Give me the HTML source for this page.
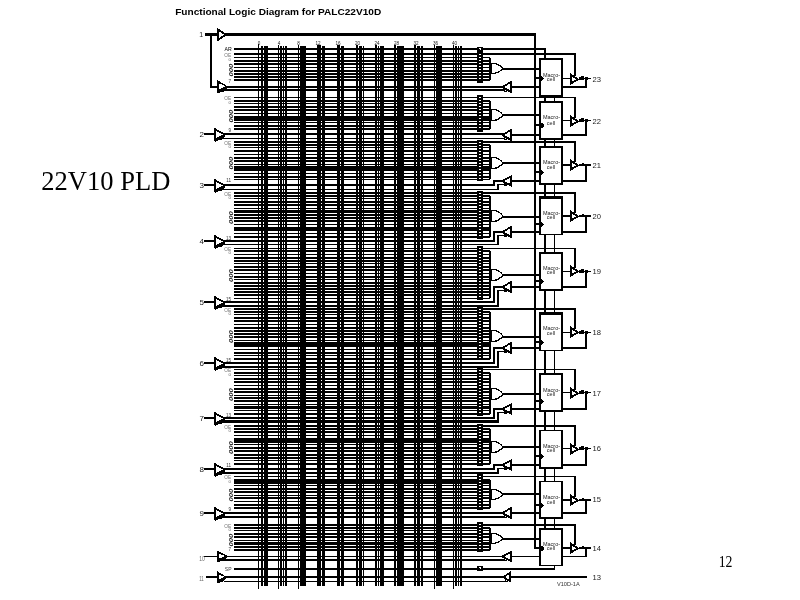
<!DOCTYPE html>
<html lang="en">
<head>
<meta charset="utf-8">
<title>22V10 PLD</title>
<style>
html,body{margin:0;padding:0;background:#fff;}
body{width:800px;height:600px;overflow:hidden;position:relative;}
svg{position:absolute;left:0;top:0;display:block;will-change:transform;}
text.s{font-family:"Liberation Sans",Arial,Helvetica,sans-serif;}
text.f{font-family:"Liberation Serif","Times New Roman",Times,serif;}
</style>
</head>
<body>
<svg width="800" height="600" viewBox="0 0 800 600">
<rect x="0" y="0" width="800" height="600" fill="#fff"/>
<g shape-rendering="crispEdges" fill="#000">
<rect x="205" y="33" width="13" height="3"/>
<rect x="225" y="33" width="311" height="3"/>
<rect x="534" y="33" width="2" height="516"/>
<rect x="210" y="35" width="2" height="53"/>
<rect x="210" y="86" width="8" height="2"/>
<rect x="258" y="44" width="1" height="545"/>
<rect x="261" y="46" width="2" height="540"/>
<rect x="264" y="46" width="4" height="540"/>
<rect x="278" y="45" width="1" height="544"/>
<rect x="280" y="46" width="2" height="540"/>
<rect x="283" y="46" width="1" height="540"/>
<rect x="285" y="46" width="2" height="540"/>
<rect x="298" y="45" width="1" height="544"/>
<rect x="300" y="46" width="6" height="540"/>
<rect x="317" y="45" width="4" height="541"/>
<rect x="322" y="46" width="3" height="540"/>
<rect x="337" y="45" width="3" height="541"/>
<rect x="341" y="46" width="3" height="540"/>
<rect x="356" y="45" width="2" height="541"/>
<rect x="359" y="46" width="3" height="540"/>
<rect x="363" y="46" width="1" height="540"/>
<rect x="375" y="45" width="2" height="541"/>
<rect x="378" y="46" width="1" height="540"/>
<rect x="380" y="46" width="4" height="540"/>
<rect x="394" y="45" width="2" height="541"/>
<rect x="397" y="46" width="7" height="540"/>
<rect x="414" y="45" width="2" height="541"/>
<rect x="417" y="46" width="3" height="540"/>
<rect x="421" y="46" width="2" height="540"/>
<rect x="434" y="45" width="1" height="544"/>
<rect x="436" y="46" width="6" height="540"/>
<rect x="453" y="45" width="1" height="544"/>
<rect x="455" y="46" width="2" height="540"/>
<rect x="458" y="46" width="1" height="540"/>
<rect x="460" y="46" width="2" height="540"/>
<rect x="234" y="48" width="312" height="2"/>
<rect x="544" y="48" width="2" height="11"/>
<rect x="234" y="568" width="321" height="2"/>
<rect x="554" y="565" width="1" height="5"/>
<rect x="234" y="53" width="342" height="2"/>
<rect x="574" y="53" width="2" height="23"/>
<rect x="234" y="57" width="256" height="1"/>
<rect x="234" y="60" width="256" height="2"/>
<rect x="234" y="63" width="256" height="2"/>
<rect x="234" y="67" width="256" height="1"/>
<rect x="234" y="70" width="256" height="2"/>
<rect x="234" y="73" width="256" height="2"/>
<rect x="234" y="76" width="256" height="2"/>
<rect x="234" y="79" width="256" height="2"/>
<rect x="489" y="58" width="2" height="22"/>
<rect x="477" y="52" width="6" height="31"/>
<rect x="479" y="54" width="2" height="1" fill="#fff"/>
<rect x="479" y="57" width="2" height="1" fill="#fff"/>
<rect x="479" y="60" width="2" height="1" fill="#fff"/>
<rect x="479" y="63" width="2" height="1" fill="#fff"/>
<rect x="479" y="66" width="2" height="1" fill="#fff"/>
<rect x="479" y="69" width="2" height="1" fill="#fff"/>
<rect x="479" y="72" width="2" height="1" fill="#fff"/>
<rect x="479" y="75" width="2" height="1" fill="#fff"/>
<rect x="479" y="78" width="2" height="1" fill="#fff"/>
<path d="M491,63.5 L494.6,63.5 Q499.6,64.2 502.9,68.7 Q499.6,72.4 494.6,73.5 L491,73.5 Z" fill="#fff" stroke="#000" stroke-width="1.3"/>
<rect x="503" y="68" width="36" height="2"/>
<rect x="539" y="58" width="24" height="39"/>
<rect x="541" y="60" width="20" height="35" fill="#fff"/>
<rect x="536" y="77" width="5" height="2"/>
<rect x="541" y="76" width="1" height="5"/>
<rect x="542" y="77" width="1" height="3"/>
<rect x="543" y="78" width="1" height="1"/>
<rect x="563" y="78" width="8" height="1"/>
<polygon points="570,73 579.5,79.5 570,85" fill="#000" stroke="#000" stroke-width="0" />
<polygon points="572,76.4 576.2,79.5 572,81.6" fill="#fff" stroke="#000" stroke-width="0" />
<rect x="579" y="77" width="5" height="3"/>
<rect x="581" y="76" width="3" height="4"/>
<rect x="584" y="78" width="7" height="1"/>
<rect x="585" y="77" width="3" height="3"/>
<rect x="585" y="78" width="2" height="10"/>
<rect x="563" y="86" width="24" height="2"/>
<rect x="512" y="86" width="27" height="2"/>
<polygon points="512,80.5 501.5,86.4 501.5,87.6 512,93.5" fill="#000" stroke="#000" stroke-width="0" />
<polygon points="510,83.4 504.6,86.9 505.4,87.9 510,90.2" fill="#fff" stroke="#000" stroke-width="0" />
<rect x="504" y="89" width="3" height="3"/>
<rect x="505" y="90" width="1" height="1" fill="#fff"/>
<rect x="462" y="86" width="42" height="2"/>
<rect x="462" y="89" width="43" height="2"/>
<rect x="234" y="97" width="342" height="1"/>
<rect x="574" y="97" width="2" height="21"/>
<rect x="234" y="100" width="256" height="2"/>
<rect x="234" y="103" width="256" height="1"/>
<rect x="234" y="106" width="256" height="2"/>
<rect x="234" y="109" width="256" height="2"/>
<rect x="234" y="113" width="256" height="1"/>
<rect x="234" y="116" width="256" height="5"/>
<rect x="234" y="122" width="256" height="1"/>
<rect x="234" y="125" width="256" height="2"/>
<rect x="234" y="128" width="256" height="2"/>
<rect x="489" y="101" width="2" height="28"/>
<rect x="477" y="95" width="6" height="37"/>
<rect x="479" y="97" width="2" height="1" fill="#fff"/>
<rect x="479" y="100" width="2" height="1" fill="#fff"/>
<rect x="479" y="103" width="2" height="1" fill="#fff"/>
<rect x="479" y="106" width="2" height="1" fill="#fff"/>
<rect x="479" y="109" width="2" height="1" fill="#fff"/>
<rect x="479" y="112" width="2" height="1" fill="#fff"/>
<rect x="479" y="115" width="2" height="1" fill="#fff"/>
<rect x="479" y="118" width="2" height="1" fill="#fff"/>
<rect x="479" y="121" width="2" height="1" fill="#fff"/>
<rect x="479" y="124" width="2" height="1" fill="#fff"/>
<rect x="479" y="127" width="2" height="1" fill="#fff"/>
<path d="M491,109.5 L494.6,109.5 Q499.6,110.2 502.9,115.2 Q499.6,119.4 494.6,120.5 L491,120.5 Z" fill="#fff" stroke="#000" stroke-width="1.3"/>
<rect x="503" y="114" width="36" height="2"/>
<rect x="539" y="101" width="24" height="39"/>
<rect x="541" y="103" width="20" height="35" fill="#fff"/>
<rect x="544" y="97" width="2" height="4"/>
<rect x="554" y="97" width="1" height="4"/>
<rect x="536" y="124" width="5" height="2"/>
<rect x="540" y="124" width="4" height="3"/>
<rect x="541" y="123" width="2" height="5"/>
<rect x="563" y="120" width="8" height="1"/>
<polygon points="570,115 579.5,121.5 570,127" fill="#000" stroke="#000" stroke-width="0" />
<polygon points="572,118.4 576.2,121.5 572,123.6" fill="#fff" stroke="#000" stroke-width="0" />
<rect x="579" y="119" width="5" height="3"/>
<rect x="581" y="118" width="3" height="4"/>
<rect x="584" y="120" width="7" height="1"/>
<rect x="585" y="119" width="3" height="3"/>
<rect x="585" y="120" width="2" height="16"/>
<rect x="563" y="134" width="24" height="2"/>
<rect x="512" y="134" width="27" height="2"/>
<polygon points="512,128.5 501.5,134.4 501.5,135.6 512,141.5" fill="#000" stroke="#000" stroke-width="0" />
<polygon points="510,131.4 504.6,134.9 505.4,135.9 510,138.2" fill="#fff" stroke="#000" stroke-width="0" />
<rect x="504" y="137" width="3" height="3"/>
<rect x="505" y="138" width="1" height="1" fill="#fff"/>
<rect x="462" y="133" width="42" height="2"/>
<rect x="462" y="138" width="43" height="1"/>
<rect x="234" y="141" width="342" height="2"/>
<rect x="574" y="141" width="2" height="21"/>
<rect x="234" y="144" width="256" height="2"/>
<rect x="234" y="147" width="256" height="1"/>
<rect x="234" y="150" width="256" height="2"/>
<rect x="234" y="154" width="256" height="1"/>
<rect x="234" y="157" width="256" height="2"/>
<rect x="234" y="160" width="256" height="2"/>
<rect x="234" y="164" width="256" height="1"/>
<rect x="234" y="166" width="256" height="5"/>
<rect x="234" y="173" width="256" height="1"/>
<rect x="234" y="176" width="256" height="2"/>
<rect x="234" y="179" width="256" height="1"/>
<rect x="489" y="145" width="2" height="34"/>
<rect x="477" y="140" width="6" height="41"/>
<rect x="479" y="142" width="2" height="1" fill="#fff"/>
<rect x="479" y="145" width="2" height="1" fill="#fff"/>
<rect x="479" y="148" width="2" height="1" fill="#fff"/>
<rect x="479" y="151" width="2" height="1" fill="#fff"/>
<rect x="479" y="154" width="2" height="1" fill="#fff"/>
<rect x="479" y="157" width="2" height="1" fill="#fff"/>
<rect x="479" y="160" width="2" height="1" fill="#fff"/>
<rect x="479" y="163" width="2" height="1" fill="#fff"/>
<rect x="479" y="166" width="2" height="1" fill="#fff"/>
<rect x="479" y="169" width="2" height="1" fill="#fff"/>
<rect x="479" y="172" width="2" height="1" fill="#fff"/>
<rect x="479" y="175" width="2" height="1" fill="#fff"/>
<rect x="479" y="178" width="2" height="1" fill="#fff"/>
<path d="M491,157.5 L494.6,157.5 Q499.6,158.2 502.9,163.2 Q499.6,167.4 494.6,168.5 L491,168.5 Z" fill="#fff" stroke="#000" stroke-width="1.3"/>
<rect x="503" y="162" width="36" height="2"/>
<rect x="539" y="146" width="24" height="39"/>
<rect x="541" y="148" width="20" height="35" fill="#fff"/>
<rect x="544" y="140" width="2" height="6"/>
<rect x="554" y="140" width="1" height="6"/>
<rect x="536" y="171" width="5" height="2"/>
<rect x="541" y="170" width="1" height="5"/>
<rect x="542" y="171" width="1" height="3"/>
<rect x="543" y="172" width="1" height="1"/>
<rect x="563" y="164" width="8" height="2"/>
<polygon points="570,159 579.5,165.5 570,171" fill="#000" stroke="#000" stroke-width="0" />
<polygon points="572,162.4 576.2,165.5 572,167.6" fill="#fff" stroke="#000" stroke-width="0" />
<rect x="579" y="164" width="12" height="2"/>
<rect x="582" y="163" width="2" height="3"/>
<rect x="585" y="165" width="2" height="17"/>
<rect x="563" y="180" width="24" height="2"/>
<rect x="512" y="180" width="27" height="2"/>
<polygon points="512,175 501.5,180.4 501.5,181.6 512,187" fill="#000" stroke="#000" stroke-width="0" />
<polygon points="510,177.9 504.6,180.9 505.4,181.9 510,183.7" fill="#fff" stroke="#000" stroke-width="0" />
<rect x="504" y="183" width="3" height="3"/>
<rect x="505" y="184" width="1" height="1" fill="#fff"/>
<rect x="493" y="180" width="11" height="2"/>
<rect x="493" y="180" width="2" height="6"/>
<rect x="462" y="184" width="33" height="2"/>
<rect x="497" y="184" width="9" height="1"/>
<rect x="497" y="184" width="2" height="6"/>
<rect x="462" y="189" width="37" height="1"/>
<rect x="234" y="192" width="342" height="2"/>
<rect x="574" y="192" width="2" height="21"/>
<rect x="234" y="195" width="256" height="2"/>
<rect x="234" y="198" width="256" height="1"/>
<rect x="234" y="201" width="256" height="2"/>
<rect x="234" y="204" width="256" height="2"/>
<rect x="234" y="208" width="256" height="1"/>
<rect x="234" y="210" width="256" height="3"/>
<rect x="234" y="214" width="256" height="2"/>
<rect x="234" y="217" width="256" height="2"/>
<rect x="234" y="220" width="256" height="2"/>
<rect x="234" y="224" width="256" height="1"/>
<rect x="234" y="227" width="256" height="4"/>
<rect x="234" y="233" width="256" height="1"/>
<rect x="234" y="236" width="256" height="2"/>
<rect x="489" y="196" width="2" height="41"/>
<rect x="477" y="191" width="6" height="48"/>
<rect x="479" y="193" width="2" height="1" fill="#fff"/>
<rect x="479" y="196" width="2" height="1" fill="#fff"/>
<rect x="479" y="199" width="2" height="1" fill="#fff"/>
<rect x="479" y="202" width="2" height="1" fill="#fff"/>
<rect x="479" y="205" width="2" height="1" fill="#fff"/>
<rect x="479" y="208" width="2" height="1" fill="#fff"/>
<rect x="479" y="211" width="2" height="1" fill="#fff"/>
<rect x="479" y="214" width="2" height="1" fill="#fff"/>
<rect x="479" y="217" width="2" height="1" fill="#fff"/>
<rect x="479" y="220" width="2" height="1" fill="#fff"/>
<rect x="479" y="223" width="2" height="1" fill="#fff"/>
<rect x="479" y="226" width="2" height="1" fill="#fff"/>
<rect x="479" y="229" width="2" height="1" fill="#fff"/>
<rect x="479" y="232" width="2" height="1" fill="#fff"/>
<rect x="479" y="235" width="2" height="1" fill="#fff"/>
<path d="M491,210.5 L494.6,210.5 Q499.6,211.2 502.9,216.2 Q499.6,220.4 494.6,221.5 L491,221.5 Z" fill="#fff" stroke="#000" stroke-width="1.3"/>
<rect x="503" y="216" width="36" height="2"/>
<rect x="539" y="196" width="24" height="39"/>
<rect x="541" y="199" width="20" height="35" fill="#fff"/>
<rect x="544" y="185" width="2" height="11"/>
<rect x="554" y="185" width="1" height="11"/>
<rect x="536" y="223" width="5" height="2"/>
<rect x="541" y="222" width="1" height="5"/>
<rect x="542" y="223" width="1" height="3"/>
<rect x="543" y="224" width="1" height="1"/>
<rect x="563" y="215" width="8" height="2"/>
<polygon points="570,210 579.5,216.5 570,222" fill="#000" stroke="#000" stroke-width="0" />
<polygon points="572,213.4 576.2,216.5 572,218.6" fill="#fff" stroke="#000" stroke-width="0" />
<rect x="579" y="215" width="12" height="2"/>
<rect x="582" y="214" width="2" height="3"/>
<rect x="585" y="216" width="2" height="17"/>
<rect x="563" y="231" width="24" height="2"/>
<rect x="512" y="231" width="27" height="2"/>
<polygon points="512,225.5 501.5,231.4 501.5,232.6 512,238.5" fill="#000" stroke="#000" stroke-width="0" />
<polygon points="510,228.4 504.6,231.9 505.4,232.9 510,235.2" fill="#fff" stroke="#000" stroke-width="0" />
<rect x="504" y="234" width="3" height="3"/>
<rect x="505" y="235" width="1" height="1" fill="#fff"/>
<rect x="493" y="231" width="11" height="2"/>
<rect x="493" y="231" width="2" height="11"/>
<rect x="462" y="240" width="33" height="2"/>
<rect x="497" y="235" width="9" height="1"/>
<rect x="497" y="235" width="2" height="10"/>
<rect x="462" y="244" width="37" height="1"/>
<rect x="234" y="248" width="342" height="1"/>
<rect x="574" y="248" width="2" height="20"/>
<rect x="234" y="250" width="256" height="2"/>
<rect x="234" y="254" width="256" height="1"/>
<rect x="234" y="257" width="256" height="2"/>
<rect x="234" y="260" width="256" height="2"/>
<rect x="234" y="263" width="256" height="1"/>
<rect x="234" y="266" width="256" height="2"/>
<rect x="234" y="269" width="256" height="2"/>
<rect x="234" y="273" width="256" height="1"/>
<rect x="234" y="276" width="256" height="2"/>
<rect x="234" y="279" width="256" height="1"/>
<rect x="234" y="282" width="256" height="2"/>
<rect x="234" y="285" width="256" height="2"/>
<rect x="234" y="288" width="256" height="2"/>
<rect x="234" y="291" width="256" height="2"/>
<rect x="234" y="294" width="256" height="2"/>
<rect x="234" y="298" width="256" height="1"/>
<rect x="489" y="251" width="2" height="47"/>
<rect x="477" y="246" width="6" height="54"/>
<rect x="479" y="248" width="2" height="1" fill="#fff"/>
<rect x="479" y="251" width="2" height="1" fill="#fff"/>
<rect x="479" y="254" width="2" height="1" fill="#fff"/>
<rect x="479" y="257" width="2" height="1" fill="#fff"/>
<rect x="479" y="260" width="2" height="1" fill="#fff"/>
<rect x="479" y="263" width="2" height="1" fill="#fff"/>
<rect x="479" y="266" width="2" height="1" fill="#fff"/>
<rect x="479" y="269" width="2" height="1" fill="#fff"/>
<rect x="479" y="272" width="2" height="1" fill="#fff"/>
<rect x="479" y="275" width="2" height="1" fill="#fff"/>
<rect x="479" y="278" width="2" height="1" fill="#fff"/>
<rect x="479" y="281" width="2" height="1" fill="#fff"/>
<rect x="479" y="284" width="2" height="1" fill="#fff"/>
<rect x="479" y="287" width="2" height="1" fill="#fff"/>
<rect x="479" y="290" width="2" height="1" fill="#fff"/>
<rect x="479" y="293" width="2" height="1" fill="#fff"/>
<rect x="479" y="296" width="2" height="1" fill="#fff"/>
<path d="M491,269.5 L494.6,269.5 Q499.6,270.2 502.9,275.2 Q499.6,279.4 494.6,280.5 L491,280.5 Z" fill="#fff" stroke="#000" stroke-width="1.3"/>
<rect x="503" y="274" width="36" height="2"/>
<rect x="539" y="252" width="24" height="39"/>
<rect x="541" y="254" width="20" height="35" fill="#fff"/>
<rect x="544" y="235" width="2" height="17"/>
<rect x="554" y="235" width="1" height="17"/>
<rect x="536" y="280" width="5" height="2"/>
<rect x="541" y="279" width="1" height="5"/>
<rect x="542" y="280" width="1" height="3"/>
<rect x="543" y="281" width="1" height="1"/>
<rect x="563" y="271" width="8" height="1"/>
<polygon points="570,265 579.5,271.5 570,277" fill="#000" stroke="#000" stroke-width="0" />
<polygon points="572,268.4 576.2,271.5 572,273.6" fill="#fff" stroke="#000" stroke-width="0" />
<rect x="579" y="270" width="5" height="3"/>
<rect x="581" y="269" width="3" height="4"/>
<rect x="584" y="271" width="7" height="1"/>
<rect x="585" y="270" width="3" height="3"/>
<rect x="585" y="271" width="2" height="17"/>
<rect x="563" y="286" width="24" height="2"/>
<rect x="512" y="286" width="27" height="2"/>
<polygon points="512,280.5 501.5,286.4 501.5,287.6 512,293.5" fill="#000" stroke="#000" stroke-width="0" />
<polygon points="510,283.4 504.6,286.9 505.4,287.9 510,290.2" fill="#fff" stroke="#000" stroke-width="0" />
<rect x="504" y="289" width="3" height="3"/>
<rect x="505" y="290" width="1" height="1" fill="#fff"/>
<rect x="493" y="286" width="11" height="2"/>
<rect x="493" y="286" width="2" height="17"/>
<rect x="462" y="301" width="33" height="2"/>
<rect x="497" y="290" width="9" height="1"/>
<rect x="497" y="290" width="2" height="17"/>
<rect x="462" y="305" width="37" height="2"/>
<rect x="234" y="308" width="342" height="2"/>
<rect x="574" y="308" width="2" height="21"/>
<rect x="234" y="311" width="256" height="2"/>
<rect x="234" y="314" width="256" height="1"/>
<rect x="234" y="317" width="256" height="2"/>
<rect x="234" y="320" width="256" height="2"/>
<rect x="234" y="324" width="256" height="1"/>
<rect x="234" y="327" width="256" height="2"/>
<rect x="234" y="330" width="256" height="2"/>
<rect x="234" y="333" width="256" height="2"/>
<rect x="234" y="336" width="256" height="2"/>
<rect x="234" y="340" width="256" height="1"/>
<rect x="234" y="342" width="256" height="5"/>
<rect x="234" y="349" width="256" height="1"/>
<rect x="234" y="352" width="256" height="2"/>
<rect x="234" y="355" width="256" height="1"/>
<rect x="234" y="358" width="256" height="2"/>
<rect x="489" y="312" width="2" height="47"/>
<rect x="477" y="307" width="6" height="53"/>
<rect x="479" y="309" width="2" height="1" fill="#fff"/>
<rect x="479" y="312" width="2" height="1" fill="#fff"/>
<rect x="479" y="315" width="2" height="1" fill="#fff"/>
<rect x="479" y="318" width="2" height="1" fill="#fff"/>
<rect x="479" y="321" width="2" height="1" fill="#fff"/>
<rect x="479" y="324" width="2" height="1" fill="#fff"/>
<rect x="479" y="327" width="2" height="1" fill="#fff"/>
<rect x="479" y="330" width="2" height="1" fill="#fff"/>
<rect x="479" y="333" width="2" height="1" fill="#fff"/>
<rect x="479" y="336" width="2" height="1" fill="#fff"/>
<rect x="479" y="339" width="2" height="1" fill="#fff"/>
<rect x="479" y="342" width="2" height="1" fill="#fff"/>
<rect x="479" y="345" width="2" height="1" fill="#fff"/>
<rect x="479" y="348" width="2" height="1" fill="#fff"/>
<rect x="479" y="351" width="2" height="1" fill="#fff"/>
<rect x="479" y="354" width="2" height="1" fill="#fff"/>
<rect x="479" y="357" width="2" height="1" fill="#fff"/>
<path d="M491,330.5 L494.6,330.5 Q499.6,331.2 502.9,336.2 Q499.6,340.4 494.6,341.5 L491,341.5 Z" fill="#fff" stroke="#000" stroke-width="1.3"/>
<rect x="503" y="336" width="36" height="2"/>
<rect x="539" y="312" width="24" height="39"/>
<rect x="541" y="315" width="20" height="35" fill="#fff"/>
<rect x="544" y="291" width="2" height="21"/>
<rect x="554" y="291" width="1" height="21"/>
<rect x="536" y="341" width="5" height="2"/>
<rect x="541" y="340" width="1" height="5"/>
<rect x="542" y="341" width="1" height="3"/>
<rect x="543" y="342" width="1" height="1"/>
<rect x="563" y="332" width="8" height="1"/>
<polygon points="570,326 579.5,332.5 570,338" fill="#000" stroke="#000" stroke-width="0" />
<polygon points="572,329.4 576.2,332.5 572,334.6" fill="#fff" stroke="#000" stroke-width="0" />
<rect x="579" y="331" width="5" height="3"/>
<rect x="581" y="330" width="3" height="4"/>
<rect x="584" y="332" width="7" height="1"/>
<rect x="585" y="331" width="3" height="3"/>
<rect x="585" y="332" width="2" height="17"/>
<rect x="563" y="347" width="24" height="2"/>
<rect x="512" y="347" width="27" height="2"/>
<polygon points="512,341.5 501.5,347.4 501.5,348.6 512,354.5" fill="#000" stroke="#000" stroke-width="0" />
<polygon points="510,344.4 504.6,347.9 505.4,348.9 510,351.2" fill="#fff" stroke="#000" stroke-width="0" />
<rect x="504" y="350" width="3" height="3"/>
<rect x="505" y="351" width="1" height="1" fill="#fff"/>
<rect x="493" y="347" width="11" height="2"/>
<rect x="493" y="347" width="2" height="17"/>
<rect x="462" y="362" width="33" height="2"/>
<rect x="497" y="351" width="9" height="1"/>
<rect x="497" y="351" width="2" height="17"/>
<rect x="462" y="366" width="37" height="2"/>
<rect x="234" y="369" width="342" height="1"/>
<rect x="574" y="369" width="2" height="21"/>
<rect x="234" y="372" width="256" height="2"/>
<rect x="234" y="375" width="256" height="1"/>
<rect x="234" y="378" width="256" height="2"/>
<rect x="234" y="381" width="256" height="2"/>
<rect x="234" y="385" width="256" height="1"/>
<rect x="234" y="388" width="256" height="2"/>
<rect x="234" y="391" width="256" height="2"/>
<rect x="234" y="395" width="256" height="1"/>
<rect x="234" y="397" width="256" height="2"/>
<rect x="234" y="400" width="256" height="2"/>
<rect x="234" y="404" width="256" height="1"/>
<rect x="234" y="406" width="256" height="3"/>
<rect x="234" y="410" width="256" height="1"/>
<rect x="234" y="413" width="256" height="2"/>
<rect x="489" y="373" width="2" height="41"/>
<rect x="477" y="368" width="6" height="48"/>
<rect x="479" y="370" width="2" height="1" fill="#fff"/>
<rect x="479" y="373" width="2" height="1" fill="#fff"/>
<rect x="479" y="376" width="2" height="1" fill="#fff"/>
<rect x="479" y="379" width="2" height="1" fill="#fff"/>
<rect x="479" y="382" width="2" height="1" fill="#fff"/>
<rect x="479" y="385" width="2" height="1" fill="#fff"/>
<rect x="479" y="388" width="2" height="1" fill="#fff"/>
<rect x="479" y="391" width="2" height="1" fill="#fff"/>
<rect x="479" y="394" width="2" height="1" fill="#fff"/>
<rect x="479" y="397" width="2" height="1" fill="#fff"/>
<rect x="479" y="400" width="2" height="1" fill="#fff"/>
<rect x="479" y="403" width="2" height="1" fill="#fff"/>
<rect x="479" y="406" width="2" height="1" fill="#fff"/>
<rect x="479" y="409" width="2" height="1" fill="#fff"/>
<rect x="479" y="412" width="2" height="1" fill="#fff"/>
<path d="M491,388.5 L494.6,388.5 Q499.6,389.2 502.9,394.2 Q499.6,398.4 494.6,399.5 L491,399.5 Z" fill="#fff" stroke="#000" stroke-width="1.3"/>
<rect x="503" y="393" width="36" height="2"/>
<rect x="539" y="373" width="24" height="39"/>
<rect x="541" y="375" width="20" height="35" fill="#fff"/>
<rect x="544" y="351" width="2" height="22"/>
<rect x="554" y="351" width="1" height="22"/>
<rect x="536" y="400" width="5" height="2"/>
<rect x="541" y="399" width="1" height="5"/>
<rect x="542" y="400" width="1" height="3"/>
<rect x="543" y="401" width="1" height="1"/>
<rect x="563" y="392" width="8" height="1"/>
<polygon points="570,387 579.5,393.5 570,399" fill="#000" stroke="#000" stroke-width="0" />
<polygon points="572,390.4 576.2,393.5 572,395.6" fill="#fff" stroke="#000" stroke-width="0" />
<rect x="579" y="391" width="5" height="3"/>
<rect x="581" y="390" width="3" height="4"/>
<rect x="584" y="392" width="7" height="1"/>
<rect x="585" y="391" width="3" height="3"/>
<rect x="585" y="392" width="2" height="18"/>
<rect x="563" y="408" width="24" height="2"/>
<rect x="512" y="408" width="27" height="2"/>
<polygon points="512,403 501.5,408.4 501.5,409.6 512,415" fill="#000" stroke="#000" stroke-width="0" />
<polygon points="510,405.9 504.6,408.9 505.4,409.9 510,411.7" fill="#fff" stroke="#000" stroke-width="0" />
<rect x="504" y="411" width="3" height="3"/>
<rect x="505" y="412" width="1" height="1" fill="#fff"/>
<rect x="493" y="408" width="11" height="2"/>
<rect x="493" y="408" width="2" height="11"/>
<rect x="462" y="417" width="33" height="2"/>
<rect x="497" y="412" width="9" height="1"/>
<rect x="497" y="412" width="2" height="11"/>
<rect x="462" y="420" width="37" height="3"/>
<rect x="234" y="425" width="342" height="2"/>
<rect x="574" y="425" width="2" height="21"/>
<rect x="234" y="428" width="256" height="2"/>
<rect x="234" y="431" width="256" height="2"/>
<rect x="234" y="435" width="256" height="1"/>
<rect x="234" y="438" width="256" height="5"/>
<rect x="234" y="444" width="256" height="1"/>
<rect x="234" y="447" width="256" height="2"/>
<rect x="234" y="450" width="256" height="2"/>
<rect x="234" y="454" width="256" height="2"/>
<rect x="234" y="457" width="256" height="2"/>
<rect x="234" y="460" width="256" height="1"/>
<rect x="234" y="463" width="256" height="2"/>
<rect x="489" y="429" width="2" height="35"/>
<rect x="477" y="424" width="6" height="42"/>
<rect x="479" y="426" width="2" height="1" fill="#fff"/>
<rect x="479" y="429" width="2" height="1" fill="#fff"/>
<rect x="479" y="432" width="2" height="1" fill="#fff"/>
<rect x="479" y="435" width="2" height="1" fill="#fff"/>
<rect x="479" y="438" width="2" height="1" fill="#fff"/>
<rect x="479" y="441" width="2" height="1" fill="#fff"/>
<rect x="479" y="444" width="2" height="1" fill="#fff"/>
<rect x="479" y="447" width="2" height="1" fill="#fff"/>
<rect x="479" y="450" width="2" height="1" fill="#fff"/>
<rect x="479" y="453" width="2" height="1" fill="#fff"/>
<rect x="479" y="456" width="2" height="1" fill="#fff"/>
<rect x="479" y="459" width="2" height="1" fill="#fff"/>
<rect x="479" y="462" width="2" height="1" fill="#fff"/>
<path d="M491,441.5 L494.6,441.5 Q499.6,442.2 502.9,447.2 Q499.6,451.4 494.6,452.5 L491,452.5 Z" fill="#fff" stroke="#000" stroke-width="1.3"/>
<rect x="503" y="446" width="36" height="2"/>
<rect x="539" y="430" width="24" height="39"/>
<rect x="541" y="431" width="20" height="36" fill="#fff"/>
<rect x="544" y="412" width="2" height="18"/>
<rect x="554" y="412" width="1" height="18"/>
<rect x="536" y="455" width="5" height="2"/>
<rect x="541" y="454" width="1" height="5"/>
<rect x="542" y="455" width="1" height="3"/>
<rect x="543" y="456" width="1" height="1"/>
<rect x="563" y="448" width="8" height="1"/>
<polygon points="570,443 579.5,449.5 570,455" fill="#000" stroke="#000" stroke-width="0" />
<polygon points="572,446.4 576.2,449.5 572,451.6" fill="#fff" stroke="#000" stroke-width="0" />
<rect x="579" y="447" width="5" height="3"/>
<rect x="581" y="446" width="3" height="4"/>
<rect x="584" y="448" width="7" height="1"/>
<rect x="585" y="447" width="3" height="3"/>
<rect x="585" y="448" width="2" height="18"/>
<rect x="563" y="464" width="24" height="2"/>
<rect x="512" y="464" width="27" height="2"/>
<polygon points="512,459 501.5,464.4 501.5,465.6 512,471" fill="#000" stroke="#000" stroke-width="0" />
<polygon points="510,461.9 504.6,464.9 505.4,465.9 510,467.7" fill="#fff" stroke="#000" stroke-width="0" />
<rect x="504" y="467" width="3" height="3"/>
<rect x="505" y="468" width="1" height="1" fill="#fff"/>
<rect x="493" y="464" width="11" height="2"/>
<rect x="493" y="464" width="2" height="6"/>
<rect x="462" y="468" width="33" height="2"/>
<rect x="497" y="468" width="9" height="1"/>
<rect x="497" y="468" width="2" height="6"/>
<rect x="462" y="472" width="37" height="2"/>
<rect x="234" y="476" width="342" height="1"/>
<rect x="574" y="476" width="2" height="21"/>
<rect x="234" y="479" width="256" height="5"/>
<rect x="234" y="485" width="256" height="1"/>
<rect x="234" y="488" width="256" height="2"/>
<rect x="234" y="491" width="256" height="2"/>
<rect x="234" y="495" width="256" height="1"/>
<rect x="234" y="497" width="256" height="2"/>
<rect x="234" y="501" width="256" height="1"/>
<rect x="234" y="504" width="256" height="2"/>
<rect x="234" y="507" width="256" height="2"/>
<rect x="489" y="480" width="2" height="28"/>
<rect x="477" y="474" width="6" height="36"/>
<rect x="479" y="476" width="2" height="1" fill="#fff"/>
<rect x="479" y="479" width="2" height="1" fill="#fff"/>
<rect x="479" y="482" width="2" height="1" fill="#fff"/>
<rect x="479" y="485" width="2" height="1" fill="#fff"/>
<rect x="479" y="488" width="2" height="1" fill="#fff"/>
<rect x="479" y="491" width="2" height="1" fill="#fff"/>
<rect x="479" y="494" width="2" height="1" fill="#fff"/>
<rect x="479" y="497" width="2" height="1" fill="#fff"/>
<rect x="479" y="500" width="2" height="1" fill="#fff"/>
<rect x="479" y="503" width="2" height="1" fill="#fff"/>
<rect x="479" y="506" width="2" height="1" fill="#fff"/>
<path d="M491,489.5 L494.6,489.5 Q499.6,490.2 502.9,494.7 Q499.6,498.4 494.6,499.5 L491,499.5 Z" fill="#fff" stroke="#000" stroke-width="1.3"/>
<rect x="503" y="493" width="36" height="2"/>
<rect x="539" y="481" width="24" height="38"/>
<rect x="541" y="482" width="20" height="35" fill="#fff"/>
<rect x="544" y="469" width="2" height="12"/>
<rect x="554" y="469" width="1" height="12"/>
<rect x="536" y="504" width="5" height="2"/>
<rect x="541" y="503" width="1" height="5"/>
<rect x="542" y="504" width="1" height="3"/>
<rect x="543" y="505" width="1" height="1"/>
<rect x="563" y="499" width="8" height="2"/>
<polygon points="570,494 579.5,500.5 570,506" fill="#000" stroke="#000" stroke-width="0" />
<polygon points="572,497.4 576.2,500.5 572,502.6" fill="#fff" stroke="#000" stroke-width="0" />
<rect x="579" y="499" width="12" height="2"/>
<rect x="582" y="498" width="2" height="3"/>
<rect x="585" y="500" width="2" height="14"/>
<rect x="563" y="512" width="24" height="2"/>
<rect x="512" y="512" width="27" height="2"/>
<polygon points="512,506.5 501.5,512.4 501.5,513.6 512,519.5" fill="#000" stroke="#000" stroke-width="0" />
<polygon points="510,509.4 504.6,512.9 505.4,513.9 510,516.2" fill="#fff" stroke="#000" stroke-width="0" />
<rect x="504" y="515" width="3" height="3"/>
<rect x="505" y="516" width="1" height="1" fill="#fff"/>
<rect x="462" y="512" width="42" height="2"/>
<rect x="462" y="516" width="43" height="2"/>
<rect x="234" y="524" width="342" height="2"/>
<rect x="574" y="524" width="2" height="21"/>
<rect x="234" y="527" width="256" height="2"/>
<rect x="234" y="530" width="256" height="1"/>
<rect x="234" y="533" width="256" height="2"/>
<rect x="234" y="536" width="256" height="2"/>
<rect x="234" y="540" width="256" height="1"/>
<rect x="234" y="542" width="256" height="3"/>
<rect x="234" y="546" width="256" height="2"/>
<rect x="234" y="549" width="256" height="2"/>
<rect x="489" y="528" width="2" height="22"/>
<rect x="477" y="522" width="6" height="30"/>
<rect x="479" y="524" width="2" height="1" fill="#fff"/>
<rect x="479" y="527" width="2" height="1" fill="#fff"/>
<rect x="479" y="530" width="2" height="1" fill="#fff"/>
<rect x="479" y="533" width="2" height="1" fill="#fff"/>
<rect x="479" y="536" width="2" height="1" fill="#fff"/>
<rect x="479" y="539" width="2" height="1" fill="#fff"/>
<rect x="479" y="542" width="2" height="1" fill="#fff"/>
<rect x="479" y="545" width="2" height="1" fill="#fff"/>
<rect x="479" y="548" width="2" height="1" fill="#fff"/>
<path d="M491,533.5 L494.6,533.5 Q499.6,534.2 502.9,538.7 Q499.6,542.4 494.6,543.5 L491,543.5 Z" fill="#fff" stroke="#000" stroke-width="1.3"/>
<rect x="503" y="538" width="36" height="2"/>
<rect x="539" y="528" width="24" height="38"/>
<rect x="541" y="530" width="20" height="35" fill="#fff"/>
<rect x="544" y="519" width="2" height="9"/>
<rect x="554" y="519" width="1" height="9"/>
<rect x="536" y="547" width="5" height="2"/>
<rect x="540" y="547" width="4" height="3"/>
<rect x="541" y="546" width="2" height="5"/>
<rect x="563" y="547" width="8" height="2"/>
<polygon points="570,542 579.5,548.5 570,554" fill="#000" stroke="#000" stroke-width="0" />
<polygon points="572,545.4 576.2,548.5 572,550.6" fill="#fff" stroke="#000" stroke-width="0" />
<rect x="579" y="547" width="12" height="2"/>
<rect x="582" y="546" width="2" height="3"/>
<rect x="585" y="548" width="2" height="9"/>
<rect x="563" y="556" width="24" height="1"/>
<rect x="512" y="556" width="27" height="1"/>
<polygon points="512,550.5 501.5,555.9 501.5,557.1 512,562.5" fill="#000" stroke="#000" stroke-width="0" />
<polygon points="510,553.4 504.6,556.4 505.4,557.4 510,559.2" fill="#fff" stroke="#000" stroke-width="0" />
<rect x="504" y="558" width="3" height="3"/>
<rect x="505" y="559" width="1" height="1" fill="#fff"/>
<rect x="462" y="556" width="42" height="1"/>
<rect x="462" y="559" width="43" height="2"/>
<rect x="477" y="47" width="6" height="5"/>
<rect x="479" y="48" width="2" height="2" fill="#fff"/>
<rect x="479" y="49" width="1" height="1"/>
<rect x="477" y="566" width="6" height="5"/>
<rect x="479" y="567" width="2" height="2" fill="#fff"/>
<rect x="479" y="568" width="1" height="1"/>
<rect x="224" y="86" width="238" height="2"/>
<rect x="224" y="89" width="238" height="2"/>
<rect x="204" y="133" width="11" height="2"/>
<rect x="224" y="133" width="238" height="2"/>
<rect x="222" y="138" width="240" height="1"/>
<rect x="204" y="184" width="11" height="2"/>
<rect x="224" y="184" width="238" height="2"/>
<rect x="222" y="189" width="240" height="1"/>
<rect x="204" y="240" width="11" height="2"/>
<rect x="224" y="240" width="238" height="2"/>
<rect x="222" y="244" width="240" height="1"/>
<rect x="204" y="301" width="11" height="2"/>
<rect x="224" y="301" width="238" height="2"/>
<rect x="222" y="305" width="240" height="2"/>
<rect x="204" y="362" width="11" height="2"/>
<rect x="224" y="362" width="238" height="2"/>
<rect x="222" y="366" width="240" height="2"/>
<rect x="204" y="417" width="11" height="2"/>
<rect x="224" y="417" width="238" height="2"/>
<rect x="222" y="420" width="240" height="3"/>
<rect x="204" y="468" width="11" height="2"/>
<rect x="224" y="468" width="238" height="2"/>
<rect x="222" y="472" width="240" height="2"/>
<rect x="204" y="512" width="11" height="2"/>
<rect x="224" y="512" width="238" height="2"/>
<rect x="222" y="516" width="240" height="2"/>
<rect x="204" y="556" width="14" height="1"/>
<rect x="226" y="556" width="236" height="1"/>
<rect x="224" y="559" width="238" height="2"/>
<rect x="206" y="576" width="12" height="2"/>
<rect x="226" y="576" width="278" height="2"/>
<rect x="224" y="581" width="281" height="1"/>
<rect x="511" y="576" width="76" height="2"/>
<polygon points="511,571.2 502.5,576.4 502.5,577.6 511,582.8" fill="#000" stroke="#000" stroke-width="0" />
<polygon points="509,574.1 505.6,576.9 506.4,577.9 509,579.5" fill="#fff" stroke="#000" stroke-width="0" />
<rect x="505" y="579" width="3" height="3"/>
<rect x="506" y="580" width="1" height="1" fill="#fff"/>
<polygon points="217,27.6 227.5,34.5 217,41.6" fill="#000" stroke="#000" stroke-width="0" />
<polygon points="219,31.5 224.3,34.6 219,38" fill="#fff" stroke="#000" stroke-width="0" />
<polygon points="217,79.9 228,86.4 217,92.9" fill="#000" stroke="#000" stroke-width="0" />
<polygon points="219,83.3 225.4,86.3 219,89.3" fill="#fff" stroke="#000" stroke-width="0" />
<polygon points="217,92.9 228,86.4 226,89.78 219,92.9" fill="#000" stroke="#000" stroke-width="0" />
<polygon points="218,93 225.69,88.4 223.82,91.6 221.62,91.6 219,93" fill="#000" stroke="#000" stroke-width="0" />
<polygon points="214,127.6 226,134.5 214,141.4" fill="#000" stroke="#000" stroke-width="0" />
<polygon points="216,131 223.4,134.4 216,137.8" fill="#fff" stroke="#000" stroke-width="0" />
<polygon points="214,141.4 226,134.5 224,138.088 216,141.4" fill="#000" stroke="#000" stroke-width="0" />
<polygon points="215,141.5 223.48,136.5 221.44,140.02 219.04,140.02 216,141.5" fill="#000" stroke="#000" stroke-width="0" />
<polygon points="214,178.6 226,185.5 214,192.4" fill="#000" stroke="#000" stroke-width="0" />
<polygon points="216,182 223.4,185.4 216,188.8" fill="#fff" stroke="#000" stroke-width="0" />
<polygon points="214,192.4 226,185.5 224,189.088 216,192.4" fill="#000" stroke="#000" stroke-width="0" />
<polygon points="215,192.5 223.48,187.5 221.44,191.02 219.04,191.02 216,192.5" fill="#000" stroke="#000" stroke-width="0" />
<polygon points="214,234.6 226,241.5 214,248.4" fill="#000" stroke="#000" stroke-width="0" />
<polygon points="216,238 223.4,241.4 216,244.8" fill="#fff" stroke="#000" stroke-width="0" />
<polygon points="214,248.4 226,241.5 224,245.088 216,248.4" fill="#000" stroke="#000" stroke-width="0" />
<polygon points="215,248.5 223.48,243.5 221.44,247.02 219.04,247.02 216,248.5" fill="#000" stroke="#000" stroke-width="0" />
<polygon points="214,295.6 226,302.5 214,309.4" fill="#000" stroke="#000" stroke-width="0" />
<polygon points="216,299 223.4,302.4 216,305.8" fill="#fff" stroke="#000" stroke-width="0" />
<polygon points="214,309.4 226,302.5 224,306.088 216,309.4" fill="#000" stroke="#000" stroke-width="0" />
<polygon points="215,309.5 223.48,304.5 221.44,308.02 219.04,308.02 216,309.5" fill="#000" stroke="#000" stroke-width="0" />
<polygon points="214,356.6 226,363.5 214,370.4" fill="#000" stroke="#000" stroke-width="0" />
<polygon points="216,360 223.4,363.4 216,366.8" fill="#fff" stroke="#000" stroke-width="0" />
<polygon points="214,370.4 226,363.5 224,367.088 216,370.4" fill="#000" stroke="#000" stroke-width="0" />
<polygon points="215,370.5 223.48,365.5 221.44,369.02 219.04,369.02 216,370.5" fill="#000" stroke="#000" stroke-width="0" />
<polygon points="214,411.6 226,418.5 214,425.4" fill="#000" stroke="#000" stroke-width="0" />
<polygon points="216,415 223.4,418.4 216,421.8" fill="#fff" stroke="#000" stroke-width="0" />
<polygon points="214,425.4 226,418.5 224,422.088 216,425.4" fill="#000" stroke="#000" stroke-width="0" />
<polygon points="215,425.5 223.48,420.5 221.44,424.02 219.04,424.02 216,425.5" fill="#000" stroke="#000" stroke-width="0" />
<polygon points="214,462.6 226,469.5 214,476.4" fill="#000" stroke="#000" stroke-width="0" />
<polygon points="216,466 223.4,469.4 216,472.8" fill="#fff" stroke="#000" stroke-width="0" />
<polygon points="214,476.4 226,469.5 224,473.088 216,476.4" fill="#000" stroke="#000" stroke-width="0" />
<polygon points="215,476.5 223.48,471.5 221.44,475.02 219.04,475.02 216,476.5" fill="#000" stroke="#000" stroke-width="0" />
<polygon points="214,506.6 226,513.5 214,520.4" fill="#000" stroke="#000" stroke-width="0" />
<polygon points="216,510 223.4,513.4 216,516.8" fill="#fff" stroke="#000" stroke-width="0" />
<polygon points="214,520.4 226,513.5 224,517.088 216,520.4" fill="#000" stroke="#000" stroke-width="0" />
<polygon points="215,520.5 223.48,515.5 221.44,519.02 219.04,519.02 216,520.5" fill="#000" stroke="#000" stroke-width="0" />
<polygon points="217,550.3 228,556.2 217,562.1" fill="#000" stroke="#000" stroke-width="0" />
<polygon points="219,553.7 225.4,556.1 219,558.5" fill="#fff" stroke="#000" stroke-width="0" />
<polygon points="217,562.1 228,556.2 226,559.268 219,562.1" fill="#000" stroke="#000" stroke-width="0" />
<polygon points="218,562.2 225.69,558.2 223.82,560.92 221.62,560.92 219,562.2" fill="#000" stroke="#000" stroke-width="0" />
<polygon points="217,571 227,577 217,583" fill="#000" stroke="#000" stroke-width="0" />
<polygon points="219,574.4 224.4,576.9 219,579.4" fill="#fff" stroke="#000" stroke-width="0" />
<polygon points="217,583 227,577 225,580.12 219,583" fill="#000" stroke="#000" stroke-width="0" />
<polygon points="218,583.1 224.9,579 223.2,581.8 221.2,581.8 219,583.1" fill="#000" stroke="#000" stroke-width="0" />
</g>
<g>
<text class="s" x="175.2" y="15" font-size="9.6" text-anchor="start" font-weight="bold" fill="#000" textLength="206" lengthAdjust="spacingAndGlyphs">Functional Logic Diagram for PALC22V10D</text>
<text class="f" x="41.3" y="190" font-size="27" text-anchor="start" font-weight="normal" fill="#000" textLength="129" lengthAdjust="spacingAndGlyphs">22V10 PLD</text>
<text class="f" x="718.7" y="566.8" font-size="16" text-anchor="start" font-weight="normal" fill="#000" textLength="13.8" lengthAdjust="spacingAndGlyphs">12</text>
<text class="s" x="557" y="585.6" font-size="5.6" text-anchor="start" font-weight="normal" fill="#333" >V10D-1A</text>
<text class="s" x="259" y="45.2" font-size="4.6" text-anchor="middle" font-weight="normal" fill="#222" >0</text>
<text class="s" x="279" y="45.2" font-size="4.6" text-anchor="middle" font-weight="normal" fill="#222" >4</text>
<text class="s" x="298.5" y="45.2" font-size="4.6" text-anchor="middle" font-weight="normal" fill="#222" >8</text>
<text class="s" x="318" y="45.2" font-size="4.6" text-anchor="middle" font-weight="normal" fill="#222" >12</text>
<text class="s" x="338" y="45.2" font-size="4.6" text-anchor="middle" font-weight="normal" fill="#222" >16</text>
<text class="s" x="357.5" y="45.2" font-size="4.6" text-anchor="middle" font-weight="normal" fill="#222" >20</text>
<text class="s" x="377" y="45.2" font-size="4.6" text-anchor="middle" font-weight="normal" fill="#222" >24</text>
<text class="s" x="396.5" y="45.2" font-size="4.6" text-anchor="middle" font-weight="normal" fill="#222" >28</text>
<text class="s" x="416" y="45.2" font-size="4.6" text-anchor="middle" font-weight="normal" fill="#222" >32</text>
<text class="s" x="435.5" y="45.2" font-size="4.6" text-anchor="middle" font-weight="normal" fill="#222" >36</text>
<text class="s" x="454.5" y="45.2" font-size="4.6" text-anchor="middle" font-weight="normal" fill="#222" >40</text>
<text class="s" x="551.5" y="76.6" font-size="5.5" text-anchor="middle" font-weight="normal" fill="#222" >Macro-</text>
<text class="s" x="551" y="81.4" font-size="5.5" text-anchor="middle" font-weight="normal" fill="#222" >cell</text>
<text class="s" x="592.6" y="81.8" font-size="7.6" text-anchor="start" font-weight="normal" fill="#222" >23</text>
<text class="s" x="551.5" y="119.4" font-size="5.5" text-anchor="middle" font-weight="normal" fill="#222" >Macro-</text>
<text class="s" x="551" y="124.6" font-size="5.5" text-anchor="middle" font-weight="normal" fill="#222" >cell</text>
<text class="s" x="592.6" y="123.8" font-size="7.6" text-anchor="start" font-weight="normal" fill="#222" >22</text>
<text class="s" x="551.5" y="164" font-size="5.5" text-anchor="middle" font-weight="normal" fill="#222" >Macro-</text>
<text class="s" x="551" y="169" font-size="5.5" text-anchor="middle" font-weight="normal" fill="#222" >cell</text>
<text class="s" x="592.6" y="168.2" font-size="7.6" text-anchor="start" font-weight="normal" fill="#222" >21</text>
<text class="s" x="551.5" y="215" font-size="5.5" text-anchor="middle" font-weight="normal" fill="#222" >Macro-</text>
<text class="s" x="551" y="219.4" font-size="5.5" text-anchor="middle" font-weight="normal" fill="#222" >cell</text>
<text class="s" x="592.6" y="218.8" font-size="7.6" text-anchor="start" font-weight="normal" fill="#222" >20</text>
<text class="s" x="551.5" y="270" font-size="5.5" text-anchor="middle" font-weight="normal" fill="#222" >Macro-</text>
<text class="s" x="551" y="274.4" font-size="5.5" text-anchor="middle" font-weight="normal" fill="#222" >cell</text>
<text class="s" x="592.6" y="274.2" font-size="7.6" text-anchor="start" font-weight="normal" fill="#222" >19</text>
<text class="s" x="551.5" y="330" font-size="5.5" text-anchor="middle" font-weight="normal" fill="#222" >Macro-</text>
<text class="s" x="551" y="335" font-size="5.5" text-anchor="middle" font-weight="normal" fill="#222" >cell</text>
<text class="s" x="592.6" y="334.8" font-size="7.6" text-anchor="start" font-weight="normal" fill="#222" >18</text>
<text class="s" x="551.5" y="392" font-size="5.5" text-anchor="middle" font-weight="normal" fill="#222" >Macro-</text>
<text class="s" x="551" y="396.4" font-size="5.5" text-anchor="middle" font-weight="normal" fill="#222" >cell</text>
<text class="s" x="592.6" y="395.8" font-size="7.6" text-anchor="start" font-weight="normal" fill="#222" >17</text>
<text class="s" x="551.5" y="448" font-size="5.5" text-anchor="middle" font-weight="normal" fill="#222" >Macro-</text>
<text class="s" x="551" y="452" font-size="5.5" text-anchor="middle" font-weight="normal" fill="#222" >cell</text>
<text class="s" x="592.6" y="451.2" font-size="7.6" text-anchor="start" font-weight="normal" fill="#222" >16</text>
<text class="s" x="551.5" y="499" font-size="5.5" text-anchor="middle" font-weight="normal" fill="#222" >Macro-</text>
<text class="s" x="551" y="503.6" font-size="5.5" text-anchor="middle" font-weight="normal" fill="#222" >cell</text>
<text class="s" x="592.6" y="502.2" font-size="7.6" text-anchor="start" font-weight="normal" fill="#222" >15</text>
<text class="s" x="551.5" y="545.6" font-size="5.5" text-anchor="middle" font-weight="normal" fill="#222" >Macro-</text>
<text class="s" x="551" y="550.4" font-size="5.5" text-anchor="middle" font-weight="normal" fill="#222" >cell</text>
<text class="s" x="592.6" y="550.8" font-size="7.6" text-anchor="start" font-weight="normal" fill="#222" >14</text>
<text class="s" x="592.6" y="580" font-size="7.6" text-anchor="start" font-weight="normal" fill="#222" >13</text>
<text class="s" x="203.2" y="36.8" font-size="7.0" text-anchor="end" font-weight="normal" fill="#222" >1</text>
<text class="s" x="204" y="137.4" font-size="8.0" text-anchor="end" font-weight="normal" fill="#222" >2</text>
<text class="s" x="204" y="188.4" font-size="8.0" text-anchor="end" font-weight="normal" fill="#222" >3</text>
<text class="s" x="204" y="244.4" font-size="8.0" text-anchor="end" font-weight="normal" fill="#222" >4</text>
<text class="s" x="204" y="305.4" font-size="8.0" text-anchor="end" font-weight="normal" fill="#222" >5</text>
<text class="s" x="204" y="366.4" font-size="8.0" text-anchor="end" font-weight="normal" fill="#222" >6</text>
<text class="s" x="204" y="421.4" font-size="8.0" text-anchor="end" font-weight="normal" fill="#222" >7</text>
<text class="s" x="204" y="472.4" font-size="8.0" text-anchor="end" font-weight="normal" fill="#222" >8</text>
<text class="s" x="204" y="516.4" font-size="8.0" text-anchor="end" font-weight="normal" fill="#222" >9</text>
<text class="s" x="199.2" y="560.8" font-size="7.0" text-anchor="start" font-weight="normal" fill="#666" textLength="5.6" lengthAdjust="spacingAndGlyphs">10</text>
<text class="s" x="199.2" y="580.6" font-size="7.0" text-anchor="start" font-weight="normal" fill="#666" textLength="4.6" lengthAdjust="spacingAndGlyphs">11</text>
<text class="s" x="228.2" y="50.8" font-size="5.2" text-anchor="middle" font-weight="normal" fill="#000" >AR</text>
<text class="s" x="228.2" y="570.8" font-size="5.0" text-anchor="middle" font-weight="normal" fill="#444" >SP</text>
<text class="s" x="227.8" y="57" font-size="4.8" text-anchor="middle" font-weight="normal" fill="#777" >OE</text>
<text class="s" x="229.8" y="60.8" font-size="4.4" text-anchor="middle" font-weight="normal" fill="#666" >0</text>
<text class="s" x="233.2" y="70.1" font-size="5.6" text-anchor="middle" font-weight="bold" fill="#111" font-style="italic" textLength="13" lengthAdjust="spacingAndGlyphs" transform="rotate(-90 233.2 70.1)">000</text>
<text class="s" x="229.8" y="82.8" font-size="4.6" text-anchor="middle" font-weight="normal" fill="#333" >7</text>
<text class="s" x="227.8" y="100" font-size="4.8" text-anchor="middle" font-weight="normal" fill="#777" >OE</text>
<text class="s" x="229.8" y="103.8" font-size="4.4" text-anchor="middle" font-weight="normal" fill="#666" >0</text>
<text class="s" x="233.2" y="116.1" font-size="5.6" text-anchor="middle" font-weight="bold" fill="#111" font-style="italic" textLength="13" lengthAdjust="spacingAndGlyphs" transform="rotate(-90 233.2 116.1)">000</text>
<text class="s" x="229.8" y="131.8" font-size="4.6" text-anchor="middle" font-weight="normal" fill="#333" >9</text>
<text class="s" x="227.8" y="145" font-size="4.8" text-anchor="middle" font-weight="normal" fill="#777" >OE</text>
<text class="s" x="229.8" y="147.8" font-size="4.4" text-anchor="middle" font-weight="normal" fill="#666" >0</text>
<text class="s" x="233.2" y="163.1" font-size="5.6" text-anchor="middle" font-weight="bold" fill="#111" font-style="italic" textLength="13" lengthAdjust="spacingAndGlyphs" transform="rotate(-90 233.2 163.1)">000</text>
<text class="s" x="228.6" y="181.8" font-size="4.6" text-anchor="middle" font-weight="normal" fill="#333" >11</text>
<text class="s" x="227.8" y="196" font-size="4.8" text-anchor="middle" font-weight="normal" fill="#777" >OE</text>
<text class="s" x="229.8" y="198.8" font-size="4.4" text-anchor="middle" font-weight="normal" fill="#666" >0</text>
<text class="s" x="233.2" y="217.6" font-size="5.6" text-anchor="middle" font-weight="bold" fill="#111" font-style="italic" textLength="13" lengthAdjust="spacingAndGlyphs" transform="rotate(-90 233.2 217.6)">000</text>
<text class="s" x="228.6" y="239.8" font-size="4.6" text-anchor="middle" font-weight="normal" fill="#333" >13</text>
<text class="s" x="227.8" y="251" font-size="4.8" text-anchor="middle" font-weight="normal" fill="#777" >OE</text>
<text class="s" x="229.8" y="253.8" font-size="4.4" text-anchor="middle" font-weight="normal" fill="#666" >0</text>
<text class="s" x="233.2" y="275.6" font-size="5.6" text-anchor="middle" font-weight="bold" fill="#111" font-style="italic" textLength="13" lengthAdjust="spacingAndGlyphs" transform="rotate(-90 233.2 275.6)">000</text>
<text class="s" x="228.6" y="300.8" font-size="4.6" text-anchor="middle" font-weight="normal" fill="#333" >15</text>
<text class="s" x="227.8" y="312" font-size="4.8" text-anchor="middle" font-weight="normal" fill="#777" >OE</text>
<text class="s" x="229.8" y="314.8" font-size="4.4" text-anchor="middle" font-weight="normal" fill="#666" >0</text>
<text class="s" x="233.2" y="336.6" font-size="5.6" text-anchor="middle" font-weight="bold" fill="#111" font-style="italic" textLength="13" lengthAdjust="spacingAndGlyphs" transform="rotate(-90 233.2 336.6)">000</text>
<text class="s" x="228.6" y="361.8" font-size="4.6" text-anchor="middle" font-weight="normal" fill="#333" >15</text>
<text class="s" x="227.8" y="372" font-size="4.8" text-anchor="middle" font-weight="normal" fill="#777" >OE</text>
<text class="s" x="229.8" y="375.8" font-size="4.4" text-anchor="middle" font-weight="normal" fill="#666" >0</text>
<text class="s" x="233.2" y="394.6" font-size="5.6" text-anchor="middle" font-weight="bold" fill="#111" font-style="italic" textLength="13" lengthAdjust="spacingAndGlyphs" transform="rotate(-90 233.2 394.6)">000</text>
<text class="s" x="228.6" y="416.8" font-size="4.6" text-anchor="middle" font-weight="normal" fill="#333" >13</text>
<text class="s" x="227.8" y="429" font-size="4.8" text-anchor="middle" font-weight="normal" fill="#777" >OE</text>
<text class="s" x="229.8" y="431.8" font-size="4.4" text-anchor="middle" font-weight="normal" fill="#666" >0</text>
<text class="s" x="233.2" y="447.6" font-size="5.6" text-anchor="middle" font-weight="bold" fill="#111" font-style="italic" textLength="13" lengthAdjust="spacingAndGlyphs" transform="rotate(-90 233.2 447.6)">000</text>
<text class="s" x="228.6" y="466.8" font-size="4.6" text-anchor="middle" font-weight="normal" fill="#333" >11</text>
<text class="s" x="227.8" y="479" font-size="4.8" text-anchor="middle" font-weight="normal" fill="#777" >OE</text>
<text class="s" x="229.8" y="482.8" font-size="4.4" text-anchor="middle" font-weight="normal" fill="#666" >0</text>
<text class="s" x="233.2" y="495.1" font-size="5.6" text-anchor="middle" font-weight="bold" fill="#111" font-style="italic" textLength="13" lengthAdjust="spacingAndGlyphs" transform="rotate(-90 233.2 495.1)">000</text>
<text class="s" x="229.8" y="510.8" font-size="4.6" text-anchor="middle" font-weight="normal" fill="#333" >9</text>
<text class="s" x="227.8" y="528" font-size="4.8" text-anchor="middle" font-weight="normal" fill="#777" >OE</text>
<text class="s" x="229.8" y="530.8" font-size="4.4" text-anchor="middle" font-weight="normal" fill="#666" >0</text>
<text class="s" x="233.2" y="540.1" font-size="5.6" text-anchor="middle" font-weight="bold" fill="#111" font-style="italic" textLength="13" lengthAdjust="spacingAndGlyphs" transform="rotate(-90 233.2 540.1)">000</text>
<text class="s" x="229.8" y="551.2" font-size="4.6" text-anchor="middle" font-weight="normal" fill="#333" >7</text>
</g>
</svg>
</body>
</html>
